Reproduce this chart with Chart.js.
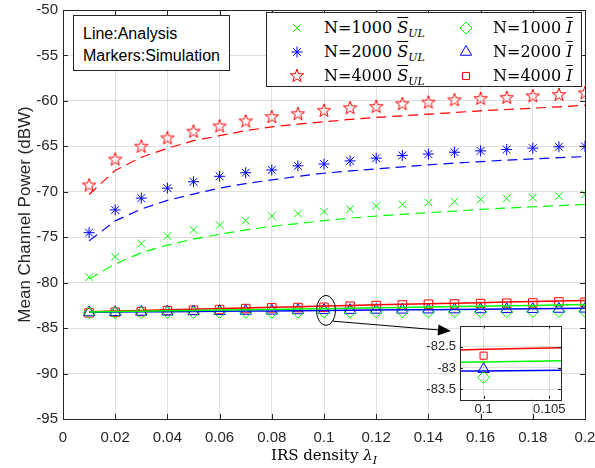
<!DOCTYPE html>
<html>
<head>
<meta charset="utf-8">
<script src="https://cdn.jsdelivr.net/npm/chart.js@4.4.0/dist/chart.umd.min.js"></script>
<style>
  html, body { margin: 0; padding: 0; background: #fff; }
  #wrap { position: relative; width: 595px; height: 468px; overflow: hidden; }
  #main { position: absolute; left: 0; top: 0; }
  #inset { position: absolute; left: 415px; top: 318px; }
  .box { position: absolute; background: #fff; border: 1px solid #262626; box-sizing: border-box; }
  #note { left: 73px; top: 15px; width: 157px; height: 56px; font: 16px "Liberation Sans", Arial, sans-serif; color: #000; }
  #note div { position: absolute; left: 9px; line-height: 20px; }
  #legend { left: 266px; top: 12px; width: 316px; height: 75px; }
  .item { position: absolute; height: 24px; font: 16px "DejaVu Serif", serif; color: #000; white-space: nowrap; }
  .item canvas { position: absolute; left: 0; top: 0; }
  .item span.t { position: absolute; left: 37px; top: 1px; line-height: 22px; }
  .ov { font-style: italic; text-decoration: overline; }
  sub { font-style: italic; font-size: 11px; vertical-align: -4px; line-height: 0; }
  #xtitle { position: absolute; top: 446px; left: 224px; width: 200px; text-align: center; font: 15px "DejaVu Serif", serif; color: #000; }
  #xtitle i { font-style: italic; }
</style>
</head>
<body>
<div id="wrap">
  <canvas id="main" width="595" height="468"></canvas>
  <canvas id="inset" width="175" height="100"></canvas>
  <div id="note" class="box"><div style="top:8px">Line:Analysis</div><div style="top:30px">Markers:Simulation</div></div>
  <div id="legend" class="box"></div>
  <div id="xtitle">IRS density <i>&lambda;</i><sub>I</sub></div>
</div>
<script>
// IRS density values on the x axis
const lambda = [0.01, 0.02, 0.03, 0.04, 0.05, 0.06, 0.07, 0.08, 0.09, 0.10,
                0.11, 0.12, 0.13, 0.14, 0.15, 0.16, 0.17, 0.18, 0.19, 0.20];

// mean signal power S_UL (dBW), simulation markers
const sUl1000Sim = [-79.4, -77.15, -75.7, -74.86, -74.2, -73.66, -73.18, -72.67, -72.4, -72.18,
                    -71.9, -71.58, -71.4, -71.18, -71.07, -70.85, -70.74, -70.63, -70.49, -70.3];
const sUl2000Sim = [-74.5, -72.0, -70.7, -69.6, -68.9, -68.3, -67.9, -67.6, -67.15, -66.95,
                    -66.6, -66.3, -66.0, -65.85, -65.65, -65.5, -65.35, -65.2, -65.05, -65.0];
const sUl4000Sim = [-69.3, -66.46, -65.04, -64.12, -63.39, -62.81, -62.26, -61.79, -61.46, -61.09,
                    -60.8, -60.66, -60.36, -60.18, -59.93, -59.78, -59.67, -59.49, -59.34, -59.16];

// mean signal power S_UL (dBW), analysis lines
const sUl1000Ana = [-79.6, -77.95, -76.7, -75.87, -75.2, -74.67, -74.2, -73.8, -73.5, -73.17,
                    -72.9, -72.67, -72.48, -72.3, -72.12, -71.94, -71.8, -71.65, -71.52, -71.4];
const sUl2000Ana = [-75.4, -73.2, -71.9, -70.95, -70.25, -69.6, -69.1, -68.7, -68.3, -67.96,
                    -67.7, -67.48, -67.25, -67.04, -66.85, -66.68, -66.52, -66.39, -66.25, -66.13];
const sUl4000Ana = [-70.3, -67.66, -66.2, -65.22, -64.38, -63.83, -63.28, -62.85, -62.55, -62.3,
                    -62.04, -61.82, -61.64, -61.46, -61.28, -61.09, -60.95, -60.8, -60.66, -60.47];

// mean interference I (dBW), simulation markers
const i1000Sim = [-83.32, -83.3, -83.31, -83.28, -83.29, -83.27, -83.25, -83.26, -83.24, -83.22,
                  -83.23, -83.21, -83.2, -83.21, -83.19, -83.18, -83.19, -83.17, -83.16, -83.15];
const i2000Sim = [-83.28, -83.25, -83.22, -83.2, -83.17, -83.15, -83.12, -83.1, -83.06, -83.03,
                  -83.02, -83.0, -82.99, -82.97, -82.96, -82.95, -82.93, -82.92, -82.9, -82.88];
const i4000Sim = [-83.32, -83.25, -83.18, -83.07, -83.03, -82.96, -82.85, -82.77, -82.74, -82.71,
                  -82.59, -82.52, -82.45, -82.37, -82.34, -82.3, -82.26, -82.23, -82.12, -82.15];

// mean interference I (dBW), analysis lines
const i1000Ana = [-83.22, -83.18, -83.14, -83.1, -83.06, -83.02, -82.98, -82.94, -82.9, -82.86,
                  -82.81, -82.77, -82.72, -82.68, -82.63, -82.59, -82.54, -82.5, -82.45, -82.4];
const i2000Ana = [-83.25, -83.23, -83.21, -83.19, -83.17, -83.15, -83.13, -83.11, -83.09, -83.07,
                  -83.04, -83.02, -82.99, -82.97, -82.94, -82.92, -82.89, -82.87, -82.84, -82.82];
const i4000Ana = [-83.2, -83.13, -83.06, -82.99, -82.92, -82.85, -82.78, -82.71, -82.64, -82.56,
                  -82.5, -82.44, -82.38, -82.32, -82.26, -82.2, -82.14, -82.08, -82.02, -81.97];

// axis ranges and ticks
const xRange = [0, 0.2];
const yRange = [-95, -50];
const insetXRange = [0.0982, 0.1059];
const insetYRange = [-83.73, -82.0];
const insetXTicks = [0.1, 0.105];
const insetYTicks = [-83.5, -83, -82.5];

const GREEN = '#00ff00', BLUE = '#0000ff', RED = '#ff0000';
const AXIS = '#262626', GRID = 'rgba(38,38,38,0.15)';
const tickFont = { family: 'Liberation Sans, Arial, sans-serif', size: 15 };

// red five-point star marker (no pentagram in Chart.js)
function makePentagram(r, color) {
    const size = Math.ceil(r * 2 + 4);
    const c = document.createElement('canvas');
    c.width = size; c.height = size;
    const g = c.getContext('2d');
    g.beginPath();
    for (let k = 0; k < 10; k++) {
        const rr = k % 2 === 0 ? r : r * 0.4;
        const a = -Math.PI / 2 + k * Math.PI / 5;
        g.lineTo(size / 2 + rr * Math.cos(a), size / 2 + rr * Math.sin(a));
    }
    g.closePath();
    g.strokeStyle = color;
    g.lineWidth = 1;
    g.stroke();
    return c;
}
const pentagram = makePentagram(7, RED);

function pts(ys) {
    return lambda.map((x, i) => ({ x: x, y: ys[i] }));
}

function anaLine(ys, color, dashed) {
    return {
        data: pts(ys), borderColor: color, borderWidth: dashed ? 1.2 : 1.5,
        borderDash: dashed ? [10, 6] : [], pointRadius: 0, fill: false, tension: 0
    };
}

function simMarks(ys, color, style, radius) {
    return {
        data: pts(ys), showLine: false, borderColor: color, backgroundColor: 'rgba(0,0,0,0)',
        pointStyle: style, pointRadius: radius, pointBorderWidth: 1, pointBorderColor: color,
        pointBackgroundColor: 'rgba(0,0,0,0)'
    };
}

// keep the plot box where it is, whatever the tick labels need
function noPad(s) {
    s.paddingLeft = 0; s.paddingRight = 0; s.paddingTop = 0; s.paddingBottom = 0;
}

// frame with inward ticks, like a matlab axes box
const framePlugin = {
    id: 'frame',
    beforeDraw(chart, args, opts) {
        if (!opts.fill) return;
        const a = chart.chartArea, ctx = chart.ctx;
        ctx.save();
        ctx.fillStyle = '#fff';
        ctx.fillRect(a.left, a.top, a.right - a.left, a.bottom - a.top);
        ctx.restore();
    },
    afterDatasetsDraw(chart, args, opts) {
        const a = chart.chartArea, ctx = chart.ctx;
        const len = opts.tick || 5;
        ctx.save();
        ctx.strokeStyle = AXIS;
        ctx.lineWidth = 1;
        ctx.beginPath();
        chart.scales.x.ticks.forEach(t => {
            const px = Math.round(chart.scales.x.getPixelForValue(t.value)) + 0.5;
            ctx.moveTo(px, a.bottom); ctx.lineTo(px, a.bottom - len);
            ctx.moveTo(px, a.top); ctx.lineTo(px, a.top + len);
        });
        chart.scales.y.ticks.forEach(t => {
            const py = Math.round(chart.scales.y.getPixelForValue(t.value)) + 0.5;
            ctx.moveTo(a.left, py); ctx.lineTo(a.left + len, py);
            ctx.moveTo(a.right, py); ctx.lineTo(a.right - len, py);
        });
        ctx.stroke();
        ctx.strokeRect(Math.round(a.left) + 0.5, Math.round(a.top) + 0.5,
                       Math.round(a.right - a.left), Math.round(a.bottom - a.top));
        ctx.restore();
    }
};

// ellipse around lambda = 0.1 and the arrow to the zoom box
const zoomMark = {
    id: 'zoomMark',
    afterDraw(chart) {
        const ctx = chart.ctx;
        const cx = chart.scales.x.getPixelForValue(0.1) + 2;
        const cy = chart.scales.y.getPixelForValue(-83.05);
        const rx = 9.5, ry = 15;
        ctx.save();
        ctx.strokeStyle = '#000';
        ctx.lineWidth = 1;
        ctx.beginPath();
        ctx.ellipse(cx, cy, rx, ry, 0, 0, Math.PI * 2);
        ctx.stroke();
        const t = 0.8;
        const x0 = cx + rx * Math.cos(t), y0 = cy + ry * Math.sin(t);
        const x1 = 451, y1 = 331;
        const ang = Math.atan2(y1 - y0, x1 - x0);
        const hl = 13, hw = 5.5;
        const bx = x1 - hl * Math.cos(ang), by = y1 - hl * Math.sin(ang);
        ctx.beginPath();
        ctx.moveTo(x0, y0);
        ctx.lineTo(bx, by);
        ctx.stroke();
        ctx.fillStyle = '#000';
        ctx.beginPath();
        ctx.moveTo(x1, y1);
        ctx.lineTo(bx + hw * Math.sin(ang), by - hw * Math.cos(ang));
        ctx.lineTo(bx - hw * Math.sin(ang), by + hw * Math.cos(ang));
        ctx.closePath();
        ctx.fill();
        ctx.restore();
    }
};

const mainDatasets = [
    anaLine(sUl1000Ana, GREEN, true),
    anaLine(sUl2000Ana, BLUE, true),
    anaLine(sUl4000Ana, RED, true),
    anaLine(i1000Ana, GREEN, false),
    anaLine(i2000Ana, BLUE, false),
    anaLine(i4000Ana, RED, false),
    simMarks(sUl1000Sim, GREEN, 'crossRot', 5.5),
    simMarks(sUl2000Sim, BLUE, 'star', 5.5),
    simMarks(sUl4000Sim, RED, pentagram, 7),
    simMarks(i1000Sim, GREEN, 'rectRot', 6),
    simMarks(i2000Sim, BLUE, 'triangle', 6.5),
    simMarks(i4000Sim, RED, 'rect', 6)
];

new Chart(document.getElementById('main'), {
    type: 'line',
    data: { datasets: mainDatasets },
    options: {
        responsive: false,
        devicePixelRatio: 1,
        animation: false,
        events: [],
        layout: { padding: { top: 10, right: 10, left: 0, bottom: 0 } },
        plugins: {
            legend: { display: false },
            tooltip: { enabled: false },
            frame: { tick: 5 }
        },
        scales: {
            x: {
                type: 'linear', min: xRange[0], max: xRange[1],
                grid: { color: GRID, drawTicks: false },
                border: { display: false },
                ticks: {
                    stepSize: 0.02, color: AXIS, font: tickFont, padding: 10, maxRotation: 0,
                    callback: v => String(Number(v.toFixed(3)))
                },
                afterFit: s => { s.height = 49; noPad(s); }
            },
            y: {
                type: 'linear', min: yRange[0], max: yRange[1],
                grid: { color: GRID, drawTicks: false },
                border: { display: false },
                ticks: { stepSize: 5, color: AXIS, font: tickFont, padding: 5 },
                title: {
                    display: true, text: 'Mean Channel Power (dBW)', color: AXIS,
                    font: { family: 'Liberation Sans, Arial, sans-serif', size: 17 },
                    padding: { top: 15, bottom: 0 }
                },
                afterFit: s => { s.width = 63; noPad(s); }
            }
        }
    },
    plugins: [framePlugin, zoomMark]
});

// zoomed view around lambda = 0.1
new Chart(document.getElementById('inset'), {
    type: 'line',
    data: {
        datasets: [
            anaLine(i1000Ana, GREEN, false),
            anaLine(i2000Ana, BLUE, false),
            anaLine(i4000Ana, RED, false),
            simMarks(i1000Sim, GREEN, 'rectRot', 6),
            simMarks(i2000Sim, BLUE, 'triangle', 6.5),
            simMarks(i4000Sim, RED, 'rect', 5)
        ]
    },
    options: {
        responsive: false,
        devicePixelRatio: 1,
        animation: false,
        events: [],
        layout: { padding: { top: 6, right: 29, left: 0, bottom: 0 } },
        plugins: {
            legend: { display: false },
            tooltip: { enabled: false },
            frame: { tick: 3, fill: true }
        },
        scales: {
            x: {
                type: 'linear', min: insetXRange[0], max: insetXRange[1],
                grid: { color: GRID, drawTicks: false },
                border: { display: false },
                afterBuildTicks: s => { s.ticks = insetXTicks.map(v => ({ value: v })); },
                ticks: { color: AXIS, font: { family: tickFont.family, size: 13 }, padding: 3, maxRotation: 0,
                         callback: v => String(v) },
                afterFit: s => { s.height = 19; noPad(s); }
            },
            y: {
                type: 'linear', min: insetYRange[0], max: insetYRange[1],
                grid: { color: GRID, drawTicks: false },
                border: { display: false },
                afterBuildTicks: s => { s.ticks = insetYTicks.map(v => ({ value: v })); },
                ticks: { color: AXIS, font: { family: tickFont.family, size: 13 }, padding: 4,
                         callback: v => String(v) },
                afterFit: s => { s.width = 45; noPad(s); }
            }
        }
    },
    plugins: [framePlugin]
});

// legend with overlined symbols, drawn as html
const legendItems = [
    { n: 'N=1000', sym: 'S', sub: 'UL', color: GREEN, style: 'crossRot', r: 5.5, col: 0, row: 0 },
    { n: 'N=2000', sym: 'S', sub: 'UL', color: BLUE, style: 'star', r: 5.5, col: 0, row: 1 },
    { n: 'N=4000', sym: 'S', sub: 'UL', color: RED, style: pentagram, r: 7, col: 0, row: 2 },
    { n: 'N=1000', sym: 'I', sub: '', color: GREEN, style: 'rectRot', r: 6, col: 1, row: 0 },
    { n: 'N=2000', sym: 'I', sub: '', color: BLUE, style: 'triangle', r: 6.5, col: 1, row: 1 },
    { n: 'N=4000', sym: 'I', sub: '', color: RED, style: 'rect', r: 5, col: 1, row: 2 }
];
const legendBox = document.getElementById('legend');
legendItems.forEach(it => {
    const d = document.createElement('div');
    d.className = 'item';
    d.style.left = (it.col === 0 ? 20 : 189) + 'px';
    d.style.top = (3 + it.row * 24) + 'px';
    const c = document.createElement('canvas');
    c.width = 20; c.height = 24;
    d.appendChild(c);
    const s = document.createElement('span');
    s.className = 't';
    s.innerHTML = it.n + ' <span class="ov">' + it.sym + '</span>' + (it.sub ? '<sub>' + it.sub + '</sub>' : '');
    d.appendChild(s);
    legendBox.appendChild(d);
    const g = c.getContext('2d');
    g.strokeStyle = it.color;
    g.fillStyle = 'rgba(0,0,0,0)';
    g.lineWidth = 1;
    Chart.helpers.drawPoint(g, { pointStyle: it.style, radius: it.r, borderWidth: 1, rotation: 0 }, 10, 12);
});
</script>
</body>
</html>
